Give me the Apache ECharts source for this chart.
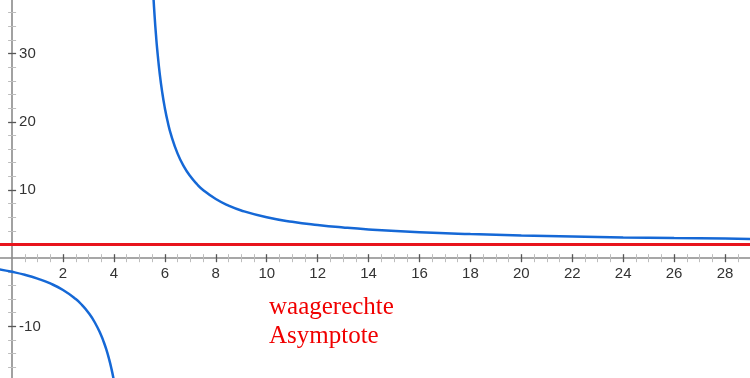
<!DOCTYPE html>
<html>
<head>
<meta charset="utf-8">
<script src="https://cdn.jsdelivr.net/npm/echarts@6/dist/echarts.min.js"></script>
<style>
html,body{margin:0;padding:0;background:#fff;}
#chart{width:750px;height:378px;}
</style>
</head>
<body>
<div id="chart"></div>
<script>
// Axis extents (data units)
const xMin = -0.475, xMax = 28.98;
const yMin = -17.57, yMax = 37.86;

// Tick values
const xMajorTicks = [2, 4, 6, 8, 10, 12, 14, 16, 18, 20, 22, 24, 26, 28];
const xMinorTicks = [0.5, 1, 1.5, 2.5, 3, 3.5, 4.5, 5, 5.5, 6.5, 7, 7.5, 8.5, 9, 9.5, 10.5, 11, 11.5,
  12.5, 13, 13.5, 14.5, 15, 15.5, 16.5, 17, 17.5, 18.5, 19, 19.5, 20.5, 21, 21.5, 22.5, 23, 23.5,
  24.5, 25, 25.5, 26.5, 27, 27.5, 28.5];
const yMajorTicks = [-10, 10, 20, 30];
const yMinorTicks = [-16, -14, -12, -8, -6, -4, -2, 2, 4, 6, 8, 12, 14, 16, 18, 22, 24, 26, 28, 32, 34, 36];

// Left branch of the curve
const leftX = [-0.5, 0, 0.5, 1, 1.5, 2, 2.5, 2.75, 3, 3.25, 3.5, 3.6, 3.7, 3.8, 3.9, 4, 4.1];
const leftY = [-1.64, -2, -2.44, -3, -3.71, -4.67, -6, -6.89, -8, -9.43, -11.33, -12.29, -13.38, -14.67, -16.18, -18, -20.22];

// Right branch of the curve
const rightX = [5.5, 5.55, 5.6, 5.65, 5.7, 5.8, 5.9, 6, 6.1, 6.25, 6.5, 6.75, 7, 7.25, 7.5, 8, 8.5, 9, 10, 11, 12, 13, 14, 16, 18, 20, 22, 24, 26, 28, 29];
const rightY = [42, 38.36, 35.33, 32.77, 30.57, 27, 24.22, 22, 20.18, 18, 15.33, 13.43, 12, 10.89, 10, 8.67, 7.71, 7, 6, 5.33, 4.86, 4.5, 4.22, 3.82, 3.54, 3.33, 3.18, 3.05, 2.95, 2.87, 2.83];

// Horizontal asymptote
const asymX = [-0.5, 29];
const asymY = [2, 2];

const labelText = 'waagerechte\nAsymptote';

const zip = (xs, ys) => xs.map((x, i) => [x, ys[i]]);

const W = 750, H = 378;
const majorTickStyle = { color: '#555', width: 1.3 };
const minorTickStyle = { color: '#bdbdbd', width: 1 };
const font = '"Liberation Sans", Arial, sans-serif';

// distance (px) of the zero lines from the grid's bottom / left edges
const xAxisOffset = -((0 - yMin) / (yMax - yMin)) * H;
const yAxisOffset = -((0 - xMin) / (xMax - xMin)) * W;

function xTickAx(pos, lineShow, ticks, style) {
  return {
    type: 'value', min: xMin, max: xMax, position: pos,
    splitLine: { show: false },
    axisLine: { show: lineShow, onZero: true, onZeroAxisIndex: 1, lineStyle: { color: '#8a8a8a', width: 1.6 } },
    axisTick: { show: true, customValues: ticks, length: 4, lineStyle: style },
    axisLabel: { show: false }
  };
}
function yTickAx(pos, lineShow, ticks, style) {
  return {
    type: 'value', min: yMin, max: yMax, position: pos,
    splitLine: { show: false },
    axisLine: { show: lineShow, onZero: true, onZeroAxisIndex: 1, lineStyle: { color: '#8a8a8a', width: 1.6 } },
    axisTick: { show: true, customValues: ticks, length: 4, lineStyle: style },
    axisLabel: { show: false }
  };
}

const chart = echarts.init(document.getElementById('chart'), null, { renderer: 'canvas' });
chart.setOption({
  animation: false,
  backgroundColor: '#ffffff',
  grid: { left: 0, right: 0, top: 0, bottom: 0, containLabel: false, outerBoundsMode: 'none' },
  xAxis: [
    {
      type: 'value', min: xMin, max: xMax, position: 'bottom', offset: xAxisOffset,
      splitLine: { show: false },
      axisLine: { show: false, onZero: false },
      axisTick: { show: false },
      axisLabel: { show: true, customValues: xMajorTicks, margin: 8, color: '#333', fontSize: 15, fontFamily: font }
    },
    xTickAx('bottom', true, xMajorTicks, majorTickStyle),
    xTickAx('top', false, xMajorTicks, majorTickStyle),
    xTickAx('bottom', false, xMinorTicks, minorTickStyle),
    xTickAx('top', false, xMinorTicks, minorTickStyle)
  ],
  yAxis: [
    {
      type: 'value', min: yMin, max: yMax, position: 'left', offset: yAxisOffset,
      splitLine: { show: false },
      axisLine: { show: false, onZero: false },
      axisTick: { show: false },
      axisLabel: { show: true, inside: true, customValues: yMajorTicks, margin: 7, color: '#333', fontSize: 15, fontFamily: font }
    },
    yTickAx('left', true, yMajorTicks, majorTickStyle),
    yTickAx('right', false, yMajorTicks, majorTickStyle),
    yTickAx('left', false, yMinorTicks, minorTickStyle),
    yTickAx('right', false, yMinorTicks, minorTickStyle)
  ],
  series: [
    {
      type: 'line', data: zip(asymX, asymY), xAxisIndex: 1, yAxisIndex: 1,
      showSymbol: false, symbol: 'none', silent: true, z: 3,
      lineStyle: { color: '#e8141c', width: 3 }
    },
    {
      type: 'line', data: zip(leftX, leftY), xAxisIndex: 1, yAxisIndex: 1,
      showSymbol: false, symbol: 'none', smooth: true, z: 4,
      lineStyle: { color: '#1568d6', width: 2.5 }
    },
    {
      type: 'line', data: zip(rightX, rightY), xAxisIndex: 1, yAxisIndex: 1,
      showSymbol: false, symbol: 'none', smooth: true, z: 4,
      lineStyle: { color: '#1568d6', width: 2.5 }
    }
  ],
  graphic: [
    {
      type: 'text', left: 269, top: 293, z: 10,
      style: {
        text: labelText, fill: '#f00000', lineHeight: 29,
        font: '25px "Liberation Serif", "Times New Roman", serif'
      }
    }
  ]
});
</script>
</body>
</html>
